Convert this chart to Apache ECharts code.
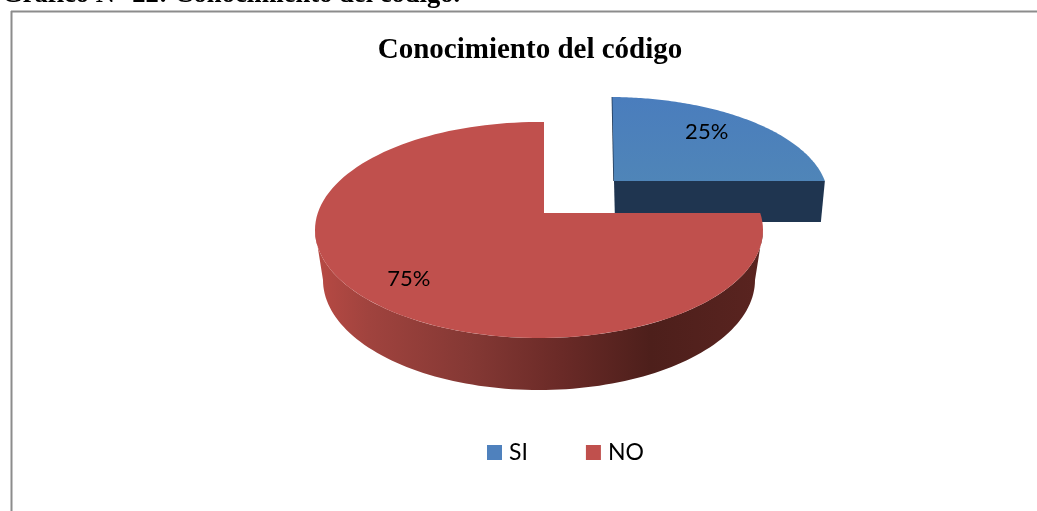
<!DOCTYPE html>
<html>
<head>
<meta charset="utf-8">
<title>Conocimiento del código</title>
<script src="https://cdn.jsdelivr.net/npm/echarts@6/dist/echarts.min.js"></script>
<style>
html, body { margin: 0; padding: 0; background: #fff; }
#chart-content { width: 1037px; height: 511px; }
</style>
</head>
<body>
<div id="chart-content"></div>
<script>
const categories = ['SI', 'NO']
const values = [25, 75]
const chartTitle = 'Conocimiento del código'
const caption = 'Gráfico N° 22: Conocimiento del código.'

const total = values.reduce((a, b) => a + b, 0)

// perspective of each slice: apex is not the centre of the ellipse
const blueShape = {
    apex: [614, 181], center: [609, 198], rx: 219, ry: 101, lean: -2,
    drop: 41, shrink: 4, labelAt: 0.7, labelShift: [0, -6],
    face: '#4f81bd', wall: '#1f3550'
}
const redShape = {
    apex: [544, 213], center: [539, 230], rx: 224, ry: 108, lean: 0,
    baseCenter: [539, 280], baseRx: 216, baseRy: 110, labelAt: 0.76, labelShift: [0, 1],
    face: '#c0504d'
}
const shapes = [blueShape, redShape]

// where the ray of angle theta (clockwise from 12 o'clock) leaves the ellipse
function rayHit(s, theta) {
    const dx = s.rx * Math.sin(theta) + s.lean * Math.cos(theta)
    const dy = -s.ry * Math.cos(theta)
    const ox = (s.apex[0] - s.center[0]) / s.rx
    const oy = (s.apex[1] - s.center[1]) / s.ry
    const px = dx / s.rx
    const py = dy / s.ry
    const a = px * px + py * py
    const b = 2 * (ox * px + oy * py)
    const c = ox * ox + oy * oy - 1
    const t = (-b + Math.sqrt(b * b - 4 * a * c)) / (2 * a)
    return [s.apex[0] + t * dx, s.apex[1] + t * dy]
}

function sliceAngles(index) {
    let before = 0
    for (let i = 0; i < index; i++) before += values[i]
    return [before / total * Math.PI * 2, (before + values[index]) / total * Math.PI * 2]
}

function facePoints(s, a0, a1) {
    const pts = [s.apex]
    for (let i = 0; i <= 120; i++) pts.push(rayHit(s, a0 + (a1 - a0) * i / 120))
    return pts
}

// outer wall of the big slice, lower half of both ellipses
function wallPoints(s) {
    const pts = []
    for (let i = 0; i <= 100; i++) {
        const p = Math.PI * i / 100
        pts.push([s.center[0] + s.rx * Math.cos(p), s.center[1] + s.ry * Math.sin(p)])
    }
    for (let i = 100; i >= 0; i--) {
        const p = Math.PI * i / 100
        pts.push([s.baseCenter[0] + s.baseRx * Math.cos(p), s.baseCenter[1] + s.baseRy * Math.sin(p)])
    }
    return pts
}

function renderSlice(index, api) {
    const s = shapes[index]
    const [a0, a1] = sliceAngles(index)
    const children = []
    let faceFill = s.face

    if (s === blueShape) {
        const right = rayHit(s, a1)
        children.push({
            type: 'polygon',
            shape: { points: [s.apex, right, [right[0] - s.shrink, right[1] + s.drop], [s.apex[0] + 1, s.apex[1] + s.drop]] },
            style: { fill: s.wall }
        })
        children.push({
            type: 'polyline',
            shape: { points: [rayHit(s, a0), s.apex] },
            style: { stroke: s.wall, lineWidth: 1.5, fill: null }
        })
        faceFill = new echarts.graphic.LinearGradient(0, 0, 0, 1, [
            { offset: 0, color: '#4a7dbd' },
            { offset: 1, color: '#4f85b8' }
        ])
    } else {
        children.push({
            type: 'polygon',
            shape: { points: wallPoints(s) },
            style: {
                fill: new echarts.graphic.LinearGradient(0, 0, 1, 0, [
                    { offset: 0, color: '#b84a44' },
                    { offset: 0.12, color: '#a0433e' },
                    { offset: 0.35, color: '#843834' },
                    { offset: 0.55, color: '#6a2a27' },
                    { offset: 0.75, color: '#4d1f1b' },
                    { offset: 1, color: '#5a2420' }
                ])
            }
        })
    }

    children.push({
        type: 'polygon',
        shape: { points: facePoints(s, a0, a1) },
        style: { fill: faceFill }
    })

    const hit = rayHit(s, (a0 + a1) / 2)
    children.push({
        type: 'text',
        z2: 10,
        style: {
            x: s.apex[0] + (hit[0] - s.apex[0]) * s.labelAt + s.labelShift[0],
            y: s.apex[1] + (hit[1] - s.apex[1]) * s.labelAt + s.labelShift[1],
            text: Math.round(api.value(0) / total * 100) + '%',
            fill: '#000',
            font: '22px Lato',
            align: 'center',
            verticalAlign: 'middle'
        }
    })
    return { type: 'group', children }
}

const chart = echarts.init(document.getElementById('chart-content'))

const option = {
    animation: false,
    backgroundColor: '#fff',
    title: {
        text: chartTitle,
        left: 525,
        top: 31,
        textAlign: 'center',
        textStyle: { color: '#000', fontFamily: 'Liberation Serif', fontWeight: 'bold', fontSize: 29 }
    },
    legend: {
        data: categories,
        left: 482,
        top: 436,
        icon: 'rect',
        itemWidth: 15,
        itemHeight: 15,
        itemGap: 58,
        textStyle: { color: '#000', fontFamily: 'Lato', fontSize: 23, padding: [0, 0, 0, 2] }
    },
    graphic: [
        {
            type: 'text',
            style: { x: 2, y: -18, text: caption, fill: '#000', font: 'bold 26.6px Liberation Serif' }
        },
        { type: 'line', shape: { x1: 11, y1: 11.5, x2: 1037, y2: 11.5 }, style: { stroke: '#8c8c8c', lineWidth: 2 } },
        { type: 'line', shape: { x1: 11.5, y1: 11, x2: 11.5, y2: 511 }, style: { stroke: '#8c8c8c', lineWidth: 2 } }
    ],
    series: categories.map((name, i) => ({
        name: name,
        type: 'custom',
        coordinateSystem: 'none',
        itemStyle: { color: shapes[i].face },
        renderItem: (params, api) => renderSlice(i, api),
        data: [values[i]]
    }))
}
chart.setOption(option)
</script>
</body>
</html>
